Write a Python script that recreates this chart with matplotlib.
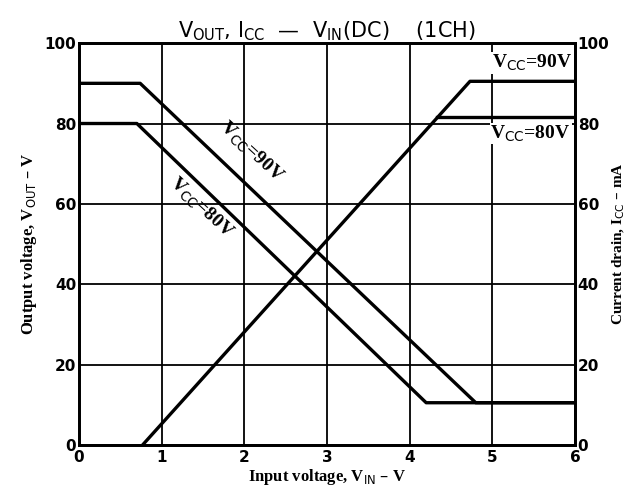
import matplotlib.pyplot as plt

# output voltage curves (left axis)
vin_90 = [0, 0.74, 4.8, 6]
vout_90 = [90, 90, 10.5, 10.5]
vin_80 = [0, 0.70, 4.2, 6]
vout_80 = [80, 80, 10.5, 10.5]

# current drain curves (right axis)
vin_icc90 = [0.77, 4.73, 6]
icc_90 = [0, 90.5, 90.5]
vin_icc80 = [4.33, 6]
icc_80 = [81.5, 81.5]

xticks = [0, 1, 2, 3, 4, 5, 6]
yticks = [0, 20, 40, 60, 80, 100]

serif = 'Liberation Serif'
lw = 2.4

fig = plt.figure(figsize=(6.27, 4.96), dpi=100)
ax = fig.add_axes([0.126, 0.103, 0.791, 0.81])
ax2 = ax.twinx()

ax.set_xlim(0, 6)
ax.set_ylim(0, 100)
ax2.set_ylim(0, 100)
ax.set_xticks(xticks)
ax.set_yticks(yticks)
ax2.set_yticks(yticks)
ax.grid(True, color='black', lw=1.3)
ax.set_axisbelow(True)

for a in (ax, ax2):
    for s in a.spines.values():
        s.set_linewidth(2)
    a.tick_params(length=0, labelsize=11, pad=2)
    for t in a.get_xticklabels() + a.get_yticklabels():
        t.set_fontweight('bold')
ax.tick_params(axis='x', pad=4)

ax.plot(vin_90, vout_90, color='black', lw=lw)
ax.plot(vin_80, vout_80, color='black', lw=lw)
ax2.plot(vin_icc90, icc_90, color='black', lw=lw)
ax2.plot(vin_icc80, icc_80, color='black', lw=lw)

lab = dict(family=serif, fontsize=14, fontweight='bold', color='black')
box = dict(facecolor='white', edgecolor='none', pad=0.5)
ax.text(2.08, 73, r'V$_{\rm CC}$=90V', rotation=-43, rotation_mode='anchor',
        ha='center', va='center', **lab)
ax.text(1.48, 59, r'V$_{\rm CC}$=80V', rotation=-43, rotation_mode='anchor',
        ha='center', va='center', **lab)
ax2.text(5.97, 95, r'V$_{\rm CC}$=90V', ha='right', va='center', bbox=box, **lab)
ax2.text(5.95, 77.5, r'V$_{\rm CC}$=80V', ha='right', va='center', bbox=box, **lab)

ax.set_xlabel(r'Input voltage, V$_{\rm IN}$ – V', family=serif, fontsize=12,
              fontweight='bold', labelpad=1)
ax.set_ylabel(r'Output voltage, V$_{\rm OUT}$ – V', family=serif, fontsize=12,
              fontweight='bold', labelpad=4)
ax2.set_ylabel(r'Current drain, I$_{\rm CC}$ – mA', family=serif, fontsize=11,
               fontweight='bold', labelpad=1)

ax.set_title(r'V$_{\rm OUT}$, I$_{\rm CC}$  —  V$_{\rm IN}$(DC)    (1CH)',
             fontsize=15, pad=4)

fig.savefig('out.png', dpi=100)
